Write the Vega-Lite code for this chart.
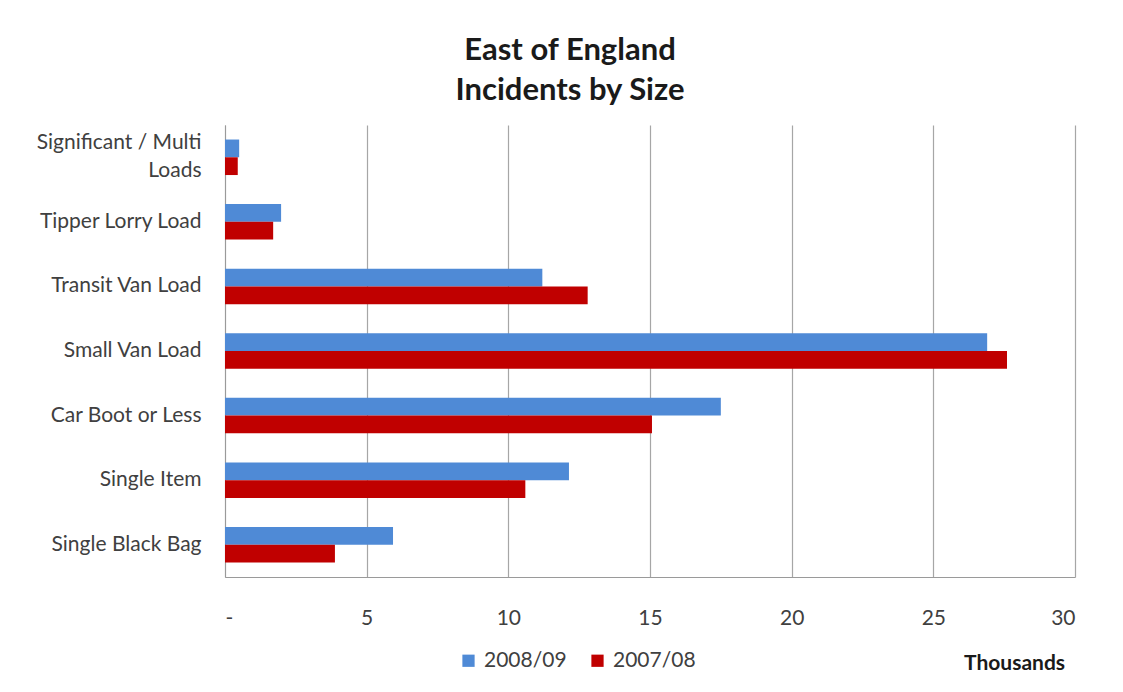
{
  "$schema": "https://vega.github.io/schema/vega-lite/v6.json",
  "autosize": "none",
  "width": 850,
  "height": 452,
  "padding": {"left": 225, "top": 125, "right": 48, "bottom": 115},
  "background": "white",
  "title": {
    "text": ["East of England", "Incidents by Size"],
    "font": "Lato",
    "fontSize": 31,
    "fontWeight": "bold",
    "color": "#1a1a1a",
    "anchor": "middle",
    "dx": -80,
    "offset": 18,
    "lineHeight": 40
  },
  "config": {
    "view": {"stroke": null},
    "font": "Lato"
  },
  "data": {
    "values": [
      {"size": "Significant / Multi Loads", "year": "2008/09", "value": 0.5},
      {"size": "Significant / Multi Loads", "year": "2007/08", "value": 0.45},
      {"size": "Tipper Lorry Load", "year": "2008/09", "value": 1.98},
      {"size": "Tipper Lorry Load", "year": "2007/08", "value": 1.7},
      {"size": "Transit Van Load", "year": "2008/09", "value": 11.2},
      {"size": "Transit Van Load", "year": "2007/08", "value": 12.8},
      {"size": "Small Van Load", "year": "2008/09", "value": 26.9},
      {"size": "Small Van Load", "year": "2007/08", "value": 27.6},
      {"size": "Car Boot or Less", "year": "2008/09", "value": 17.5},
      {"size": "Car Boot or Less", "year": "2007/08", "value": 15.07},
      {"size": "Single Item", "year": "2008/09", "value": 12.14},
      {"size": "Single Item", "year": "2007/08", "value": 10.6},
      {"size": "Single Black Bag", "year": "2008/09", "value": 5.93},
      {"size": "Single Black Bag", "year": "2007/08", "value": 3.88}
    ]
  },
  "mark": {"type": "bar"},
  "encoding": {
    "y": {
      "field": "size",
      "type": "nominal",
      "sort": ["Significant / Multi Loads", "Tipper Lorry Load", "Transit Van Load", "Small Van Load", "Car Boot or Less", "Single Item", "Single Black Bag"],
      "scale": {"paddingInner": 0.45, "paddingOuter": 0.225},
      "axis": {
        "title": null,
        "ticks": false,
        "domain": true,
        "domainColor": "#9a9a9a",
        "labelFont": "Lato",
        "labelFontSize": 21,
        "labelColor": "#404040",
        "labelPadding": 24,
        "labelLimit": 300,
        "labelLineHeight": 28,
        "labelExpr": "datum.value == 'Significant / Multi Loads' ? ['Significant / Multi', 'Loads'] : datum.label",
        "labelOffset": {"expr": "datum.value == 'Significant / Multi Loads' ? -14 : 0"}
      }
    },
    "yOffset": {
      "field": "year",
      "type": "nominal",
      "sort": ["2008/09", "2007/08"]
    },
    "x": {
      "field": "value",
      "type": "quantitative",
      "scale": {"domain": [0, 30], "nice": false},
      "axis": {
        "values": [0, 5, 10, 15, 20, 25, 30],
        "labelExpr": "datum.value == 0 ? '-' : datum.label",
        "grid": true,
        "gridColor": "#a6a6a6",
        "gridWidth": 1.2,
        "ticks": false,
        "domainColor": "#9a9a9a",
        "labelFont": "Lato",
        "labelFontSize": 21,
        "labelColor": "#404040",
        "labelPadding": 30,
        "title": "Thousands",
        "titleFont": "Lato",
        "titleFontSize": 21,
        "titleFontWeight": "bold",
        "titleColor": "#1a1a1a",
        "titleX": 789,
        "titleY": 86,
        "titleAlign": "center",
        "titleBaseline": "middle"
      }
    },
    "color": {
      "field": "year",
      "type": "nominal",
      "sort": ["2008/09", "2007/08"],
      "scale": {"domain": ["2008/09", "2007/08"], "range": ["#4F8AD6", "#C00000"]},
      "legend": {
        "title": null,
        "orient": "none",
        "direction": "horizontal",
        "legendX": 233,
        "legendY": 525,
        "symbolType": "square",
        "symbolSize": 150,
        "symbolStrokeWidth": 0,
        "labelFont": "Lato",
        "labelFontSize": 21,
        "labelColor": "#404040",
        "columnPadding": 20,
        "labelOffset": 5
      }
    }
  }
}
